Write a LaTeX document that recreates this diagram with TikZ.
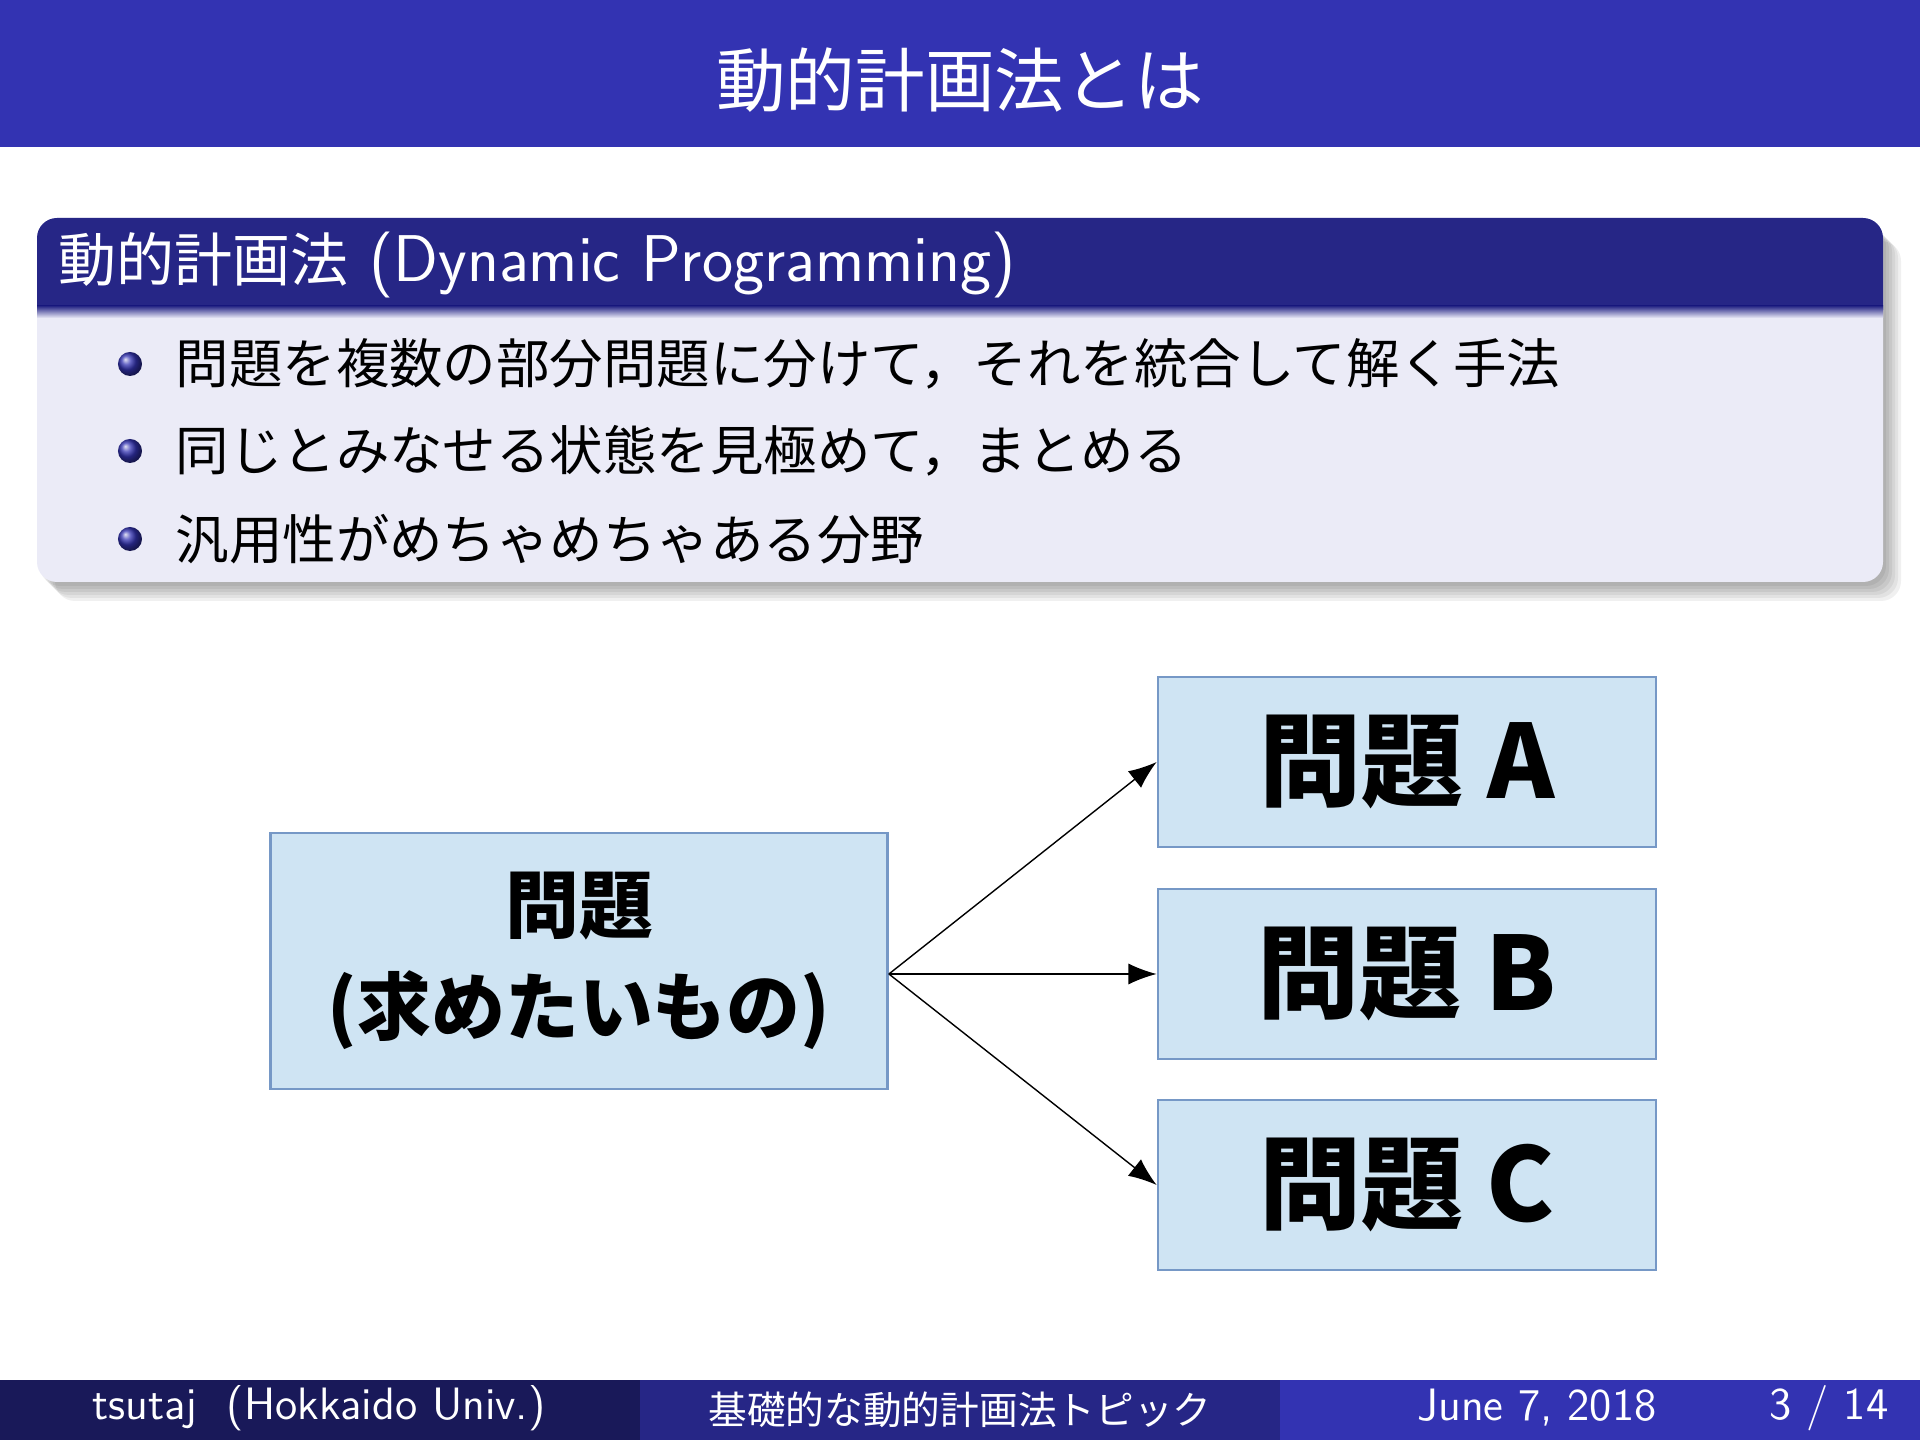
\documentclass[tikz,border=0pt]{standalone}
\usepackage{fontspec}
\newfontfamily\jp{Noto Sans CJK JP}
\usetikzlibrary{arrows.meta,positioning}

\definecolor{structure}{RGB}{51,51,178}
\colorlet{blocktitle}{structure!75!black}
\colorlet{blockbody}{structure!10!white}
\colorlet{footleft}{structure!50!black}
\definecolor{boxfill}{RGB}{207,228,243}
\definecolor{boxedge}{RGB}{118,152,198}

\tikzset{
  problem/.style={draw=boxedge, fill=boxfill, line width=0.7pt, font=\jp\bfseries, align=center, inner sep=0pt},
  split/.style={-{Latex[length=8pt,width=6pt]}, line width=0.4pt},
  itemball/.style={circle, inner sep=0pt, minimum size=0.24cm, shading=ball, ball color=structure},
  itemtext/.style={anchor=west, inner sep=0pt, font=\jp\fontsize{15.2}{18}\selectfont},
  foottext/.style={text=white, font=\sffamily\fontsize{12.9}{15}\selectfont}
}

\begin{document}
\begin{tikzpicture}[x=0.01cm, y=-0.01cm]
    \useasboundingbox (0,0) rectangle (1920,1440);

    % Frame title
    \fill[structure] (0,0) rectangle (1920,147);
    \node[text=white, font=\jp\fontsize{19.8}{24}\selectfont] (title) at (960,80) {動的計画法とは};

    % Block shadow
    \foreach \k in {0,...,5}
        \fill[black, opacity=0.06, rounded corners=20*0.01cm]
            (40+\k*3,226+\k*3) rectangle (1886+\k*3,586+\k*3);

    % Block
    \fill[blockbody, rounded corners=20*0.01cm] (37,218) rectangle (1883,582);
    \fill[blocktitle, rounded corners=20*0.01cm] (37,218) rectangle (1883,330);
    \fill[blockbody] (37,309) rectangle (1883,330);
    \shade[top color=blocktitle, bottom color=blockbody] (37,306) rectangle (1883,318);
    \node[anchor=west, inner sep=0pt, text=white] (blockname) at (58,265)
        {{\jp\fontsize{16.5}{20}\selectfont 動的計画法}{\sffamily\fontsize{18.8}{22}\selectfont\ (Dynamic Programming)}};

    % Items
    \node[itemball] (ball1) at (130,364) {};
    \node[itemball] (ball2) at (130,451) {};
    \node[itemball] (ball3) at (130,539) {};
    \node[itemtext] (item1) at (175,364) {問題を複数の部分問題に分けて，それを統合して解く手法};
    \node[itemtext] (item2) at (175,451) {同じとみなせる状態を見極めて，まとめる};
    \node[itemtext] (item3) at (175,539) {汎用性がめちゃめちゃある分野};

    % Problem and sub-problems
    \node[problem, minimum width=6.17cm, minimum height=2.56cm, font=\jp\bfseries\fontsize{21}{29}\selectfont] (whole) at (579,961)
        {問題\\(求めたいもの)};
    \node[problem, minimum width=4.98cm, minimum height=1.70cm, font=\jp\bfseries\fontsize{29}{34}\selectfont] (subA) at (1407,762) {問題 A};
    \node[problem, minimum width=4.98cm, minimum height=1.70cm, font=\jp\bfseries\fontsize{29}{34}\selectfont] (subB) at (1407,974) {問題 B};
    \node[problem, minimum width=4.98cm, minimum height=1.70cm, font=\jp\bfseries\fontsize{29}{34}\selectfont] (subC) at (1407,1185) {問題 C};

    \coordinate (fork) at (whole.east |- subB.west);
    \draw[split] (fork) -- (subA.west);
    \draw[split] (fork) -- (subB.west);
    \draw[split] (fork) -- (subC.west);

    % Footline
    \fill[footleft] (0,1380) rectangle (640,1440);
    \fill[blocktitle] (640,1380) rectangle (1280,1440);
    \fill[structure] (1280,1380) rectangle (1920,1440);
    \node[foottext] (author) at (319,1408) {tsutaj\ \ (Hokkaido Univ.)};
    \node[text=white, font=\jp\fontsize{11}{13}\selectfont] (talk) at (960,1410) {基礎的な動的計画法トピック};
    \node[foottext] (date) at (1537,1408) {June 7, 2018};
    \node[foottext] (page) at (1829,1408) {3 / 14};
\end{tikzpicture}
\end{document}
